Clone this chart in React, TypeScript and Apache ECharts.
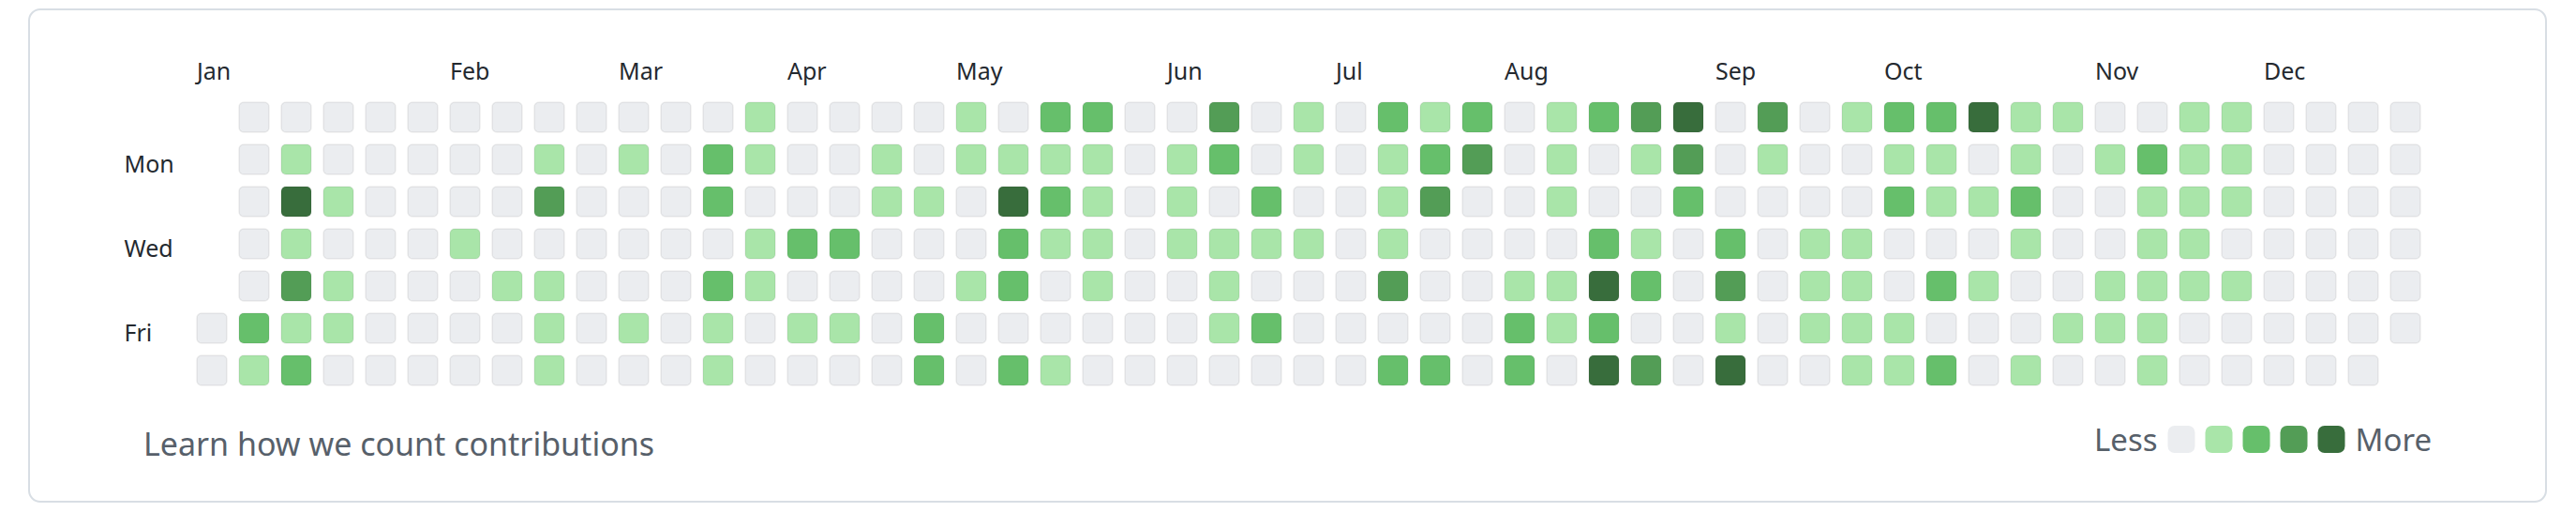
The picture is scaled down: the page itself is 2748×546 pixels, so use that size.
import { useEffect, useRef } from 'react';
import * as echarts from 'echarts';

const dayNames = ['Sun', 'Mon', 'Tue', 'Wed', 'Thu', 'Fri', 'Sat'];
const weekIds = Array.from({ length: 53 }, (_, i) => 'W' + (i + 1));
const monthLabels = ['Jan', 'Feb', 'Mar', 'Apr', 'May', 'Jun', 'Jul', 'Aug', 'Sep', 'Oct', 'Nov', 'Dec'];
const monthStartWeek = [0, 6, 10, 14, 18, 23, 27, 31, 36, 40, 45, 49];

// contribution level (0-4) per week column, one array per weekday; null = outside 2021
const sun = [null, 0, 0, 0, 0, 0, 0, 0, 0, 0, 0, 0, 0,
  1, 0, 0, 0, 0, 1, 0, 2, 2, 0, 0, 3, 0,
  1, 0, 2, 1, 2, 0, 1, 2, 3, 4, 0, 3, 0,
  1, 2, 2, 4, 1, 1, 0, 0, 1, 1, 0, 0, 0, 0];
const mon = [null, 0, 1, 0, 0, 0, 0, 0, 1, 0, 1, 0, 2,
  1, 0, 0, 1, 0, 1, 1, 1, 1, 0, 1, 2, 0,
  1, 0, 1, 2, 3, 0, 1, 0, 1, 3, 0, 1, 0,
  0, 1, 1, 0, 1, 0, 1, 2, 1, 1, 0, 0, 0, 0];
const tue = [null, 0, 4, 1, 0, 0, 0, 0, 3, 0, 0, 0, 2,
  0, 0, 0, 1, 1, 0, 4, 2, 1, 0, 1, 0, 2,
  0, 0, 1, 3, 0, 0, 1, 0, 0, 2, 0, 0, 0,
  0, 2, 1, 1, 2, 0, 0, 1, 1, 1, 0, 0, 0, 0];
const wed = [null, 0, 1, 0, 0, 0, 1, 0, 0, 0, 0, 0, 0,
  1, 2, 2, 0, 0, 0, 2, 1, 1, 0, 1, 1, 1,
  1, 0, 1, 0, 0, 0, 0, 2, 1, 0, 2, 0, 1,
  1, 0, 0, 0, 1, 0, 0, 1, 1, 0, 0, 0, 0, 0];
const thu = [null, 0, 3, 1, 0, 0, 0, 1, 1, 0, 0, 0, 2,
  1, 0, 0, 0, 0, 1, 2, 0, 1, 0, 0, 1, 0,
  0, 0, 3, 0, 0, 1, 1, 4, 2, 0, 3, 0, 1,
  1, 0, 2, 1, 0, 0, 1, 1, 1, 1, 0, 0, 0, 0];
const fri = [0, 2, 1, 1, 0, 0, 0, 0, 1, 0, 1, 0, 1,
  0, 1, 1, 0, 2, 0, 0, 0, 0, 0, 0, 1, 2,
  0, 0, 0, 0, 0, 2, 1, 2, 0, 0, 1, 0, 1,
  1, 1, 0, 0, 0, 1, 1, 1, 0, 0, 0, 0, 0, 0];
const sat = [0, 1, 2, 0, 0, 0, 0, 0, 1, 0, 0, 0, 1,
  0, 0, 0, 0, 2, 0, 2, 1, 0, 0, 0, 0, 0,
  0, 0, 2, 2, 0, 2, 0, 4, 3, 0, 4, 0, 0,
  1, 1, 2, 0, 1, 0, 0, 1, 0, 0, 0, 0, 0, null];

const levelColors = ['#ebedf0', '#a9e5a9', '#66bf6b', '#539d56', '#386d3c'];
const FONT = '"Noto Sans", "Open Sans", sans-serif';

export default function App() {
  const ref = useRef<HTMLDivElement>(null);

  useEffect(() => {
    if (!ref.current) return;
    const chart = echarts.init(ref.current, undefined, { renderer: 'svg' });
    const rows = [sun, mon, tue, wed, thu, fri, sat];
    const data: number[][] = [];
    rows.forEach((row, d) => {
      row.forEach((v, w) => {
        if (v !== null && v !== undefined) data.push([w, d, v]);
      });
    });

    chart.setOption({
      animation: false,
      backgroundColor: '#ffffff',
      grid: { left: 203.5, top: 102.5, width: 2385, height: 315 },
      xAxis: [
        {
          type: 'category',
          data: weekIds,
          axisLine: { show: false },
          axisTick: { show: false },
          axisLabel: { show: false },
          splitLine: { show: false },
        },
        {
          type: 'value',
          position: 'top',
          min: -0.5,
          max: 52.5,
          axisLine: { show: false },
          axisTick: { show: false },
          splitLine: { show: false },
          axisLabel: {
            customValues: monthStartWeek.map((w) => w - 0.356),
            formatter: (v: number) => {
              const idx = monthStartWeek.indexOf(Math.round(v + 0.356));
              return idx >= 0 ? monthLabels[idx] : '';
            },
            align: 'left',
            verticalAlign: 'middle',
            margin: 28,
            fontSize: 25,
            color: '#24292f',
            fontFamily: FONT,
          },
        },
      ],
      yAxis: {
        type: 'category',
        data: dayNames,
        inverse: true,
        axisLine: { show: false },
        axisTick: { show: false },
        splitLine: { show: false },
        axisLabel: {
          interval: (i: number) => i % 2 === 1,
          formatter: (v: string) => '{d|' + v + '}',
          align: 'left',
          verticalAlign: 'middle',
          margin: 71,
          rich: {
            d: {
              fontSize: 25,
              color: '#24292f',
              fontFamily: FONT,
              padding: [8, 0, 0, 0],
            },
          },
        },
      },
      visualMap: {
        type: 'piecewise',
        seriesIndex: 0,
        dimension: 2,
        orient: 'horizontal',
        left: 2234,
        top: 452,
        padding: 0,
        itemWidth: 29,
        itemHeight: 29,
        itemGap: 11,
        textGap: 10,
        itemSymbol: 'roundRect',
        selectedMode: false,
        hoverLink: false,
        text: ['More', 'Less'],
        textStyle: { fontSize: 33, color: '#57606a', fontFamily: FONT },
        pieces: levelColors.map((c, i) => ({ value: i, color: c })),
      },
      graphic: [
        {
          type: 'rect',
          shape: { x: 31, y: 10, width: 2685, height: 525, r: 12 },
          style: { fill: 'none', stroke: '#d8dee4', lineWidth: 2 },
          silent: true,
        },
        {
          type: 'text',
          style: {
            x: 153,
            y: 473,
            text: 'Learn how we count contributions',
            fontSize: 34,
            fill: '#57606a',
            fontFamily: FONT,
            verticalAlign: 'middle',
          },
          silent: true,
        },
      ],
      series: [
        {
          type: 'custom',
          xAxisIndex: 0,
          yAxisIndex: 0,
          data,
          renderItem: (params: any, api: any) => {
            const p = api.coord([api.value(0), api.value(1)]);
            const band = api.size([1, 1]);
            const s = band[0] * 0.711;
            return {
              type: 'rect',
              shape: { x: p[0] - s / 2, y: p[1] - s / 2, width: s, height: s, r: 5 },
              style: { fill: api.visual('color'), stroke: 'rgba(27,31,35,0.07)', lineWidth: 1.5 },
            };
          },
        },
      ],
    });

    return () => chart.dispose();
  }, []);

  return (
    <div
      ref={ref}
      style={{ position: 'absolute', left: 0, top: 0, width: 2748, height: 546 }}
    />
  );
}
